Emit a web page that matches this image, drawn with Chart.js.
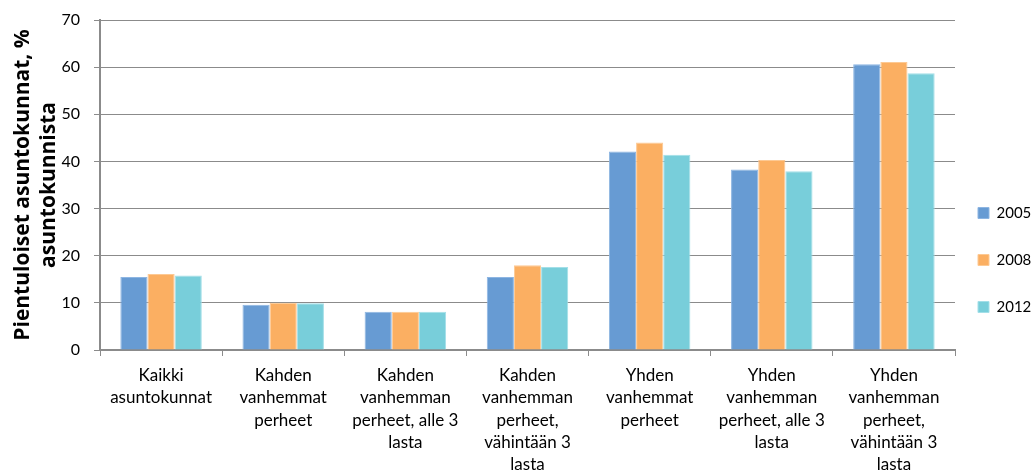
<!DOCTYPE html>
<html>
<head>
<meta charset="utf-8">
<script src="https://cdn.jsdelivr.net/npm/chart.js@4.4.0/dist/chart.umd.min.js"></script>
<style>
  html, body { margin: 0; padding: 0; background: #fff; }
  #wrap { width: 1032px; height: 472px; }
</style>
</head>
<body>
<div id="wrap"><canvas id="chart"></canvas></div>
<script>
// Data
const categories = [
  ['Kaikki', 'asuntokunnat'],
  ['Kahden', 'vanhemmat', 'perheet'],
  ['Kahden', 'vanhemman', 'perheet, alle 3', 'lasta'],
  ['Kahden', 'vanhemman', 'perheet,', 'vähintään 3', 'lasta'],
  ['Yhden', 'vanhemmat', 'perheet'],
  ['Yhden', 'vanhemman', 'perheet, alle 3', 'lasta'],
  ['Yhden', 'vanhemman', 'perheet,', 'vähintään 3', 'lasta']
];
const years = ['2005', '2008', '2012'];
const values2005 = [15.5, 9.6, 8.1, 15.5, 42.1, 38.3, 60.6];
const values2008 = [16.1, 10.0, 8.1, 18.0, 44.0, 40.3, 61.1];
const values2012 = [15.8, 9.9, 8.1, 17.6, 41.4, 37.9, 58.7];
const yTicks = [0, 10, 20, 30, 40, 50, 60, 70];

const fills = ['#679BD3', '#FBAF62', '#78CEDA'];
const edges = ['#8DB5E2', '#FDC993', '#A3DFE8'];
const axisGrey = '#8b8b8b';
const font = "Lato, 'Open Sans', sans-serif";

// keep the legend a fixed width and pull its left edge in a little, like the original
const legendFix = {
  id: 'legendFix',
  afterInit(chart) {
    const lg = chart.legend;
    const fit = lg.fit.bind(lg);
    lg.fit = function () { fit(); this.width = 77; };
  },
  afterLayout(chart) {
    chart.legend.left -= 9;
  }
};

const ctx = document.getElementById('chart');
new Chart(ctx, {
  type: 'bar',
  data: {
    labels: categories,
    datasets: [values2005, values2008, values2012].map((vals, i) => ({
      label: years[i],
      data: vals,
      backgroundColor: fills[i],
      borderColor: edges[i],
      borderWidth: 1,
      categoryPercentage: 0.667,
      barPercentage: 1.0
    }))
  },
  options: {
    responsive: true,
    maintainAspectRatio: false,
    animation: false,
    layout: { padding: { left: 6, right: 0, top: 20, bottom: 0 } },
    scales: {
      x: {
        grid: { display: true, drawOnChartArea: false, color: axisGrey, tickLength: 6, offset: true },
        border: { color: axisGrey, width: 2 },
        ticks: {
          color: '#000',
          font: { family: font, size: 17, lineHeight: 1.32 },
          padding: 8,
          maxRotation: 0,
          autoSkip: false
        },
        afterFit: scale => { scale.height = 122; }
      },
      y: {
        min: 0,
        max: 70,
        afterBuildTicks: scale => { scale.ticks = yTicks.map(v => ({ value: v })); },
        grid: { color: axisGrey, tickLength: 6 },
        border: { color: axisGrey, width: 2 },
        ticks: {
          color: '#000',
          font: { family: font, size: 16 },
          padding: 14
        },
        title: {
          display: true,
          text: ['Pientuloiset asuntokunnat, %', 'asuntokunnista'],
          color: '#000',
          font: { family: "'Open Sans', sans-serif", size: 21, weight: 'bold', lineHeight: 1.24 },
          padding: { top: 4, bottom: 0 }
        },
        afterFit: scale => {
          scale.width = 94;
          // the wide tick padding should not push the plot top down
          scale.paddingTop = 10;
          scale.paddingBottom = 10;
        }
      }
    },
    plugins: {
      legend: {
        position: 'right',
        title: { display: true, text: '', font: { size: 10 }, padding: { top: 16, bottom: 0 } },
        labels: {
          boxWidth: 11,
          boxHeight: 11,
          color: '#000',
          font: { family: font, size: 15 },
          padding: 32
        }
      },
      tooltip: { enabled: false }
    }
  },
  plugins: [legendFix]
});
</script>
</body>
</html>
